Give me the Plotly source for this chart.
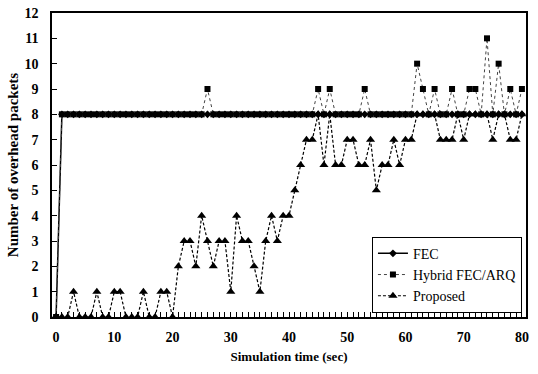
import plotly.graph_objects as go

time_sec = list(range(0, 81))

fec = [0, 8, 8, 8, 8, 8, 8, 8, 8, 8,
       8, 8, 8, 8, 8, 8, 8, 8, 8, 8,
       8, 8, 8, 8, 8, 8, 8, 8, 8, 8,
       8, 8, 8, 8, 8, 8, 8, 8, 8, 8,
       8, 8, 8, 8, 8, 8, 8, 8, 8, 8,
       8, 8, 8, 8, 8, 8, 8, 8, 8, 8,
       8, 8, 8, 8, 8, 8, 8, 8, 8, 8,
       8, 8, 8, 8, 8, 8, 8, 8, 8, 8,
       8]

hybrid = [0, 8, 8, 8, 8, 8, 8, 8, 8, 8,
          8, 8, 8, 8, 8, 8, 8, 8, 8, 8,
          8, 8, 8, 8, 8, 8, 9, 8, 8, 8,
          8, 8, 8, 8, 8, 8, 8, 8, 8, 8,
          8, 8, 8, 8, 8, 9, 8, 9, 8, 8,
          8, 8, 8, 9, 8, 8, 8, 8, 8, 8,
          8, 8, 10, 9, 8, 9, 8, 8, 9, 8,
          8, 9, 9, 8, 11, 8, 10, 8, 9, 8,
          9]

proposed = [0, 0, 0, 1, 0, 0, 0, 1, 0, 0,
            1, 1, 0, 0, 0, 1, 0, 0, 1, 1,
            0, 2, 3, 3, 2, 4, 3, 2, 3, 3,
            1, 4, 3, 3, 2, 1, 3, 4, 3, 4,
            4, 5, 6, 7, 7, 8, 6, 8, 6, 6,
            7, 7, 6, 6, 7, 5, 6, 6, 7, 6,
            7, 7, 8, 8, 8, 8, 7, 7, 7, 8,
            7, 8, 8, 8, 8, 7, 8, 8, 7, 7,
            8]

SERIF = "Liberation Serif"

fig = go.Figure()
fig.add_trace(go.Scatter(
    x=time_sec, y=fec, name="FEC", mode="lines+markers",
    line=dict(color="black", width=1.5),
    marker=dict(symbol="diamond", size=6, color="black"),
))
fig.add_trace(go.Scatter(
    x=time_sec, y=hybrid, name="Hybrid FEC/ARQ", mode="lines+markers",
    line=dict(color="#444444", width=1, dash="dot"),
    marker=dict(symbol="square", size=6, color="black"),
))
fig.add_trace(go.Scatter(
    x=time_sec, y=proposed, name="Proposed", mode="lines+markers",
    line=dict(color="black", width=1.2, dash="3px,2px"),
    marker=dict(symbol="triangle-up", size=8, color="black"),
))

fig.update_layout(
    width=538, height=374,
    margin=dict(l=52, r=12, t=6, b=57),
    paper_bgcolor="white", plot_bgcolor="white",
    font=dict(family=SERIF, color="black"),
    showlegend=True,
    legend=dict(
        x=0.675, y=0.264, xanchor="left", yanchor="top",
        bgcolor="white", bordercolor="black", borderwidth=1,
        font=dict(family=SERIF, size=14, color="black"),
        tracegroupgap=0,
    ),
)
fig.update_xaxes(
    range=[-0.7, 80.7], tickmode="linear", tick0=0, dtick=10,
    showgrid=False, zeroline=False,
    showline=True, linecolor="black", linewidth=1.5, mirror=True,
    ticks="inside", ticklen=5, tickwidth=1.2, tickcolor="black",
    minor=dict(dtick=1, tick0=0, ticks="inside", ticklen=5, tickwidth=1.2,
               tickcolor="black", showgrid=False),
    tickfont=dict(family=SERIF, size=14, color="black", weight="bold"),
    ticklabelstandoff=6, ticklabeloverflow="allow",
    title=dict(text="<b>Simulation time (sec)</b>", font=dict(family=SERIF, size=13, color="black"), standoff=8),
)
fig.update_yaxes(
    range=[0, 12], tickmode="linear", tick0=0, dtick=1,
    showgrid=False, zeroline=False,
    showline=True, linecolor="black", linewidth=1.5, mirror=True,
    ticks="inside", ticklen=5, tickwidth=1.2, tickcolor="black",
    tickfont=dict(family=SERIF, size=14, color="black", weight="bold"),
    ticklabelstandoff=9,
    title=dict(text="<b>Number of overhead packets</b>", font=dict(family=SERIF, size=15, color="black"), standoff=2),
)

fig.write_html(
    "out.html",
    config={"displayModeBar": False},
    post_script="document.body.style.margin='0';document.body.style.padding='0';",
)
